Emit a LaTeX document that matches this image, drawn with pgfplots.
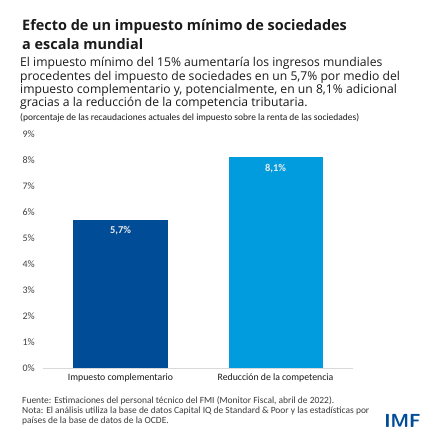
\documentclass[border=0pt]{standalone}
\usepackage{fontspec}
\setmainfont{Carlito}
\newfontfamily\headfont{Open Sans}
\usepackage{pgfplots}
\pgfplotsset{compat=1.18}
\definecolor{imfdark}{HTML}{004C97}
\definecolor{imflight}{HTML}{009CDE}
\definecolor{txt}{HTML}{1A1A1A}
\definecolor{ticktxt}{HTML}{404040}
\begin{document}
\begin{tikzpicture}
\fill[white] (0bp,0bp) rectangle (442bp,442bp);
% title
\node[anchor=base west,inner sep=0pt,text=txt,font=\headfont\bfseries\fontsize{14.5}{17}\selectfont] at (22bp,411bp) {Efecto de un impuesto mínimo de sociedades};
\node[anchor=base west,inner sep=0pt,text=txt,font=\headfont\bfseries\fontsize{14.5}{17}\selectfont] at (22bp,392bp) {a escala mundial};
% subtitle
\begin{scope}[every node/.style={anchor=base west,inner sep=0pt,text=txt,font=\headfont\fontsize{12.2}{14}\selectfont}]
\node at (20bp,375bp) {El impuesto mínimo del 15\% aumentaría los ingresos mundiales};
\node at (20bp,361.7bp) {procedentes del impuesto de sociedades en un 5,7\% por medio del};
\node at (20bp,348.4bp) {impuesto complementario y, potencialmente, en un 8,1\% adicional};
\node at (20bp,335.1bp) {gracias a la reducción de la competencia tributaria.};
\end{scope}
\node[anchor=base west,inner sep=0pt,text=txt,font=\fontsize{9.5}{11}\selectfont] at (20bp,321bp) {(porcentaje de las recaudaciones actuales del impuesto sobre la renta de las sociedades)};
% footnotes
\begin{scope}[every node/.style={anchor=base west,inner sep=0pt,text=txt!85,font=\fontsize{9.5}{11}\selectfont}]
\node at (22bp,39bp) {Fuente: Estimaciones del personal técnico del FMI (Monitor Fiscal, abril de 2022).};
\node at (22bp,29bp) {Nota: El análisis utiliza la base de datos Capital IQ de Standard \& Poor y las estadísticas por};
\node at (22bp,19bp) {países de la base de datos de la OCDE.};
\end{scope}
\node[anchor=base east,inner sep=0pt,text=imfdark,font=\sffamily\bfseries\fontsize{19}{20}\selectfont] at (421bp,15bp) {IMF};
\begin{axis}[
    at={(43bp,74bp)}, anchor=south west, scale only axis,
    width=310bp, height=234bp,
    xmin=-0.5, xmax=1.5, ymin=0, ymax=9,
    ybar, bar width=94bp,
    xtick={0,1},
    xticklabels={Impuesto complementario, Reducción de la competencia},
    ytick={0,1,...,9},
    yticklabel={\pgfmathprintnumber{\tick}\%},
    /pgf/number format/assume math mode=true,
    axis x line*=bottom, axis y line*=left,
    y axis line style={draw=none},
    x axis line style={draw=black!15, line width=0.8pt, -},
    major tick length=0pt,
    yticklabel style={inner sep=0pt, xshift=-8bp, text=ticktxt, font=\fontsize{10}{11}\selectfont},
    xticklabel style={inner sep=0pt, yshift=-6bp, text=txt, font=\fontsize{9.8}{11}\selectfont},
    nodes near coords={\pgfmathprintnumber[fixed,fixed zerofill,precision=1,use comma]{\pgfplotspointmeta}\%},
    every node near coord/.append style={anchor=north, inner sep=0pt, yshift=-6.5bp, text=white!92!black, font=\bfseries\fontsize{10.5}{12}\selectfont},
]
\addplot[fill=imfdark, draw=none, bar shift=0pt] coordinates {(0,5.7)};
\addplot[fill=imflight, draw=none, bar shift=0pt] coordinates {(1,8.1)};
\end{axis}
\end{tikzpicture}
\end{document}
